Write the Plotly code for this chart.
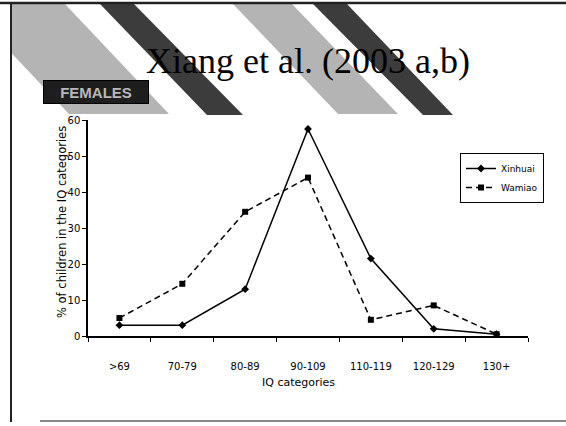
import plotly.graph_objects as go

categories = [">69", "70-79", "80-89", "90-109", "110-119", "120-129", "130+"]
xinhuai = [3, 3, 13, 57.5, 21.5, 2, 0.5]
wamiao = [5, 14.5, 34.5, 44, 4.5, 8.5, 0.5]
y_ticks = [0, 10, 20, 30, 40, 50, 60]

W, H = 566, 426
L, R, T, B = 88, 528, 120, 336


def px(x):
    return (x - L) / (R - L)


def py(y):
    return (B - y) / (B - T)


def poly(points):
    s = "M " + " L ".join(f"{px(a):.4f},{py(b):.4f}" for a, b in points) + " Z"
    return s


fig = go.Figure()
fig.add_trace(go.Scatter(
    x=categories, y=xinhuai, name="Xinhuai", mode="lines+markers",
    line=dict(color="black", width=1.5),
    marker=dict(symbol="diamond", size=6, color="black"),
))
fig.add_trace(go.Scatter(
    x=categories, y=wamiao, name="Wamiao", mode="lines+markers",
    line=dict(color="black", width=1.5, dash="6px,4px"),
    marker=dict(symbol="square", size=6, color="black"),
))

shapes = []
# diagonal stripes of the slide banner
stripes = [
    ([(-35, 4), (65, 4), (169, 114), (69, 114)], "#b4b4b4"),
    ([(100, 4), (134, 4), (243, 115), (207, 115)], "#3c3c3c"),
    ([(233, 4), (292, 4), (398, 114), (338, 114)], "#b4b4b4"),
    ([(313, 4), (347, 4), (453, 115), (423, 115)], "#3c3c3c"),
]
for pts, col in stripes:
    shapes.append(dict(type="path", xref="paper", yref="paper", path=poly(pts),
                       fillcolor=col, line=dict(width=0), layer="below"))
# white mask left of the slide frame
shapes.append(dict(type="rect", xref="paper", yref="paper",
                   x0=px(-5), x1=px(11), y0=py(430), y1=py(0),
                   fillcolor="white", line=dict(width=0), layer="below"))
# slide frame
shapes.append(dict(type="line", xref="paper", yref="paper",
                   x0=px(0), x1=px(566), y0=py(3), y1=py(3),
                   line=dict(color="#222222", width=2.5)))
shapes.append(dict(type="line", xref="paper", yref="paper",
                   x0=px(11), x1=px(11), y0=py(3), y1=py(422),
                   line=dict(color="#222222", width=2)))
shapes.append(dict(type="line", xref="paper", yref="paper",
                   x0=px(40), x1=px(566), y0=py(421), y1=py(421),
                   line=dict(color="#888888", width=2)))

annotations = [
    dict(text="Xiang et al. (2003 a,b)", xref="paper", yref="paper",
         x=px(308), y=py(61), xanchor="center", yanchor="middle", showarrow=False,
         font=dict(family="Liberation Serif", size=36, color="black")),
    dict(text="<b>FEMALES</b>", xref="paper", yref="paper",
         x=px(96), y=py(92), xanchor="center", yanchor="middle",
         showarrow=False, width=102, height=20,
         bgcolor="#1e1e1e", bordercolor="black", borderwidth=1, borderpad=1,
         font=dict(family="Liberation Sans", size=15, color="#b8b8b8")),
    dict(text="% of children in the IQ categories", xref="paper", yref="paper",
         x=px(62), y=py(222), xanchor="center", yanchor="middle",
         showarrow=False, textangle=-90,
         font=dict(family="DejaVu Sans", size=11.5, color="black")),
    dict(text="IQ categories", xref="paper", yref="paper",
         x=px(298), y=py(382), xanchor="center", yanchor="middle", showarrow=False,
         font=dict(family="DejaVu Sans", size=11, color="black")),
]

fig.update_layout(
    width=W, height=H,
    margin=dict(l=L, r=W - R, t=T, b=H - B),
    paper_bgcolor="white", plot_bgcolor="white",
    showlegend=True,
    legend=dict(x=px(460), y=py(153), xanchor="left", yanchor="top",
                bordercolor="black", borderwidth=1, bgcolor="white",
                font=dict(family="DejaVu Sans", size=9, color="black"),
                tracegroupgap=0, itemwidth=30),
    shapes=shapes,
    annotations=annotations,
    font=dict(family="DejaVu Sans", size=10, color="black"),
)
fig.update_xaxes(
    type="category", categoryorder="array", categoryarray=categories,
    range=[-0.5, 6.5], showgrid=False, zeroline=False,
    showline=True, linecolor="black", linewidth=1.5,
    ticks="outside", tickson="boundaries", ticklen=4, tickcolor="black",
    ticklabelstandoff=20, tickfont=dict(family="DejaVu Sans", size=10),
)
fig.update_yaxes(
    range=[0, 60], tickvals=y_ticks, showgrid=False, zeroline=False,
    showline=True, linecolor="black", linewidth=1.5,
    ticks="outside", ticklen=4, tickcolor="black",
    tickfont=dict(family="DejaVu Sans", size=10),
)

fig.write_html("out.html", config={"displayModeBar": False},
               post_script="document.body.style.margin='0px';")
